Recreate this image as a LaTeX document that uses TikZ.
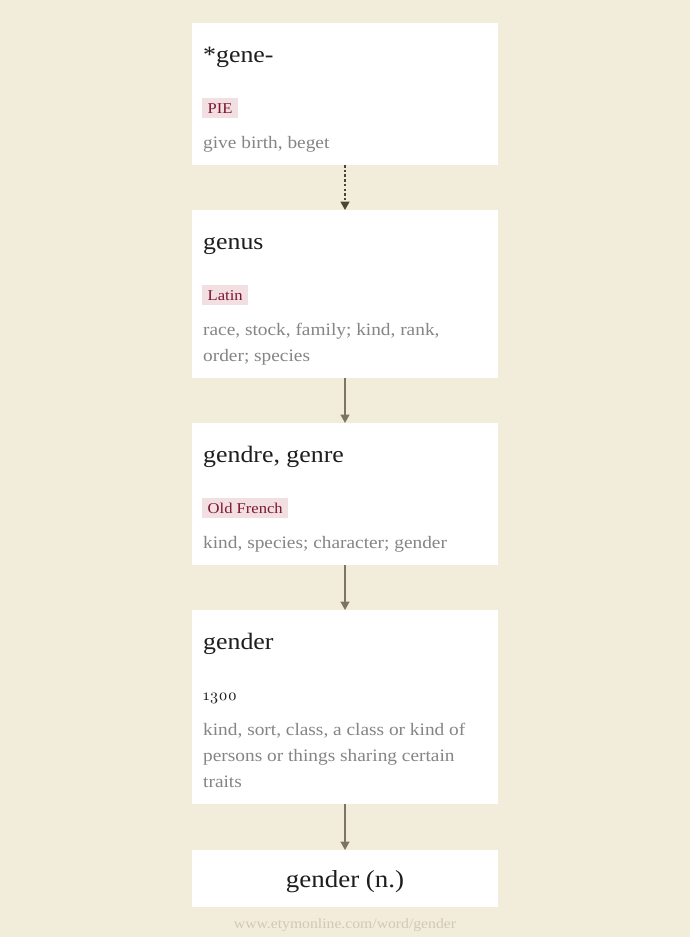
\documentclass[tikz,border=0pt]{standalone}
\usepackage{fontspec}
\setmainfont{Liberation Serif}[FakeStretch=1.105]
\newfontfamily\ttlfont{Liberation Serif}[FakeStretch=1.1]
\newfontfamily\lmold{lmroman10-regular.otf}[Numbers=OldStyle]
\usetikzlibrary{arrows.meta}
\definecolor{bg}{HTML}{F2ECDA}
\definecolor{tagbg}{HTML}{F1DFE1}
\definecolor{tagfg}{HTML}{7E1530}
\definecolor{gtext}{HTML}{858585}
\definecolor{ttext}{HTML}{1E1E1E}
\definecolor{arr}{HTML}{7C7564}
\definecolor{darr}{HTML}{4A4536}
\definecolor{foot}{HTML}{D0C9B4}
\tikzset{
  card/.style={fill=white, draw=none},
  ttl/.style={anchor=base west, inner sep=0pt, text=ttext, font=\ttlfont\fontsize{23.5}{26}\selectfont},
  tag/.style={anchor=base west, inner xsep=5.5pt, inner ysep=0pt, text=tagfg, fill=tagbg, font=\fontsize{15}{17}\selectfont, text height=15pt, text depth=5pt},
  gloss/.style={anchor=base west, inner sep=0pt, text=gtext, font=\fontsize{17.5}{26}\selectfont},
  link/.style={draw=arr, line width=1.5pt, -{Triangle[width=9pt,length=8.5pt]}},
  dlink/.style={draw=darr, line width=1.7pt, dash pattern=on 2.5pt off 2.2pt, -{Triangle[width=9pt,length=8.5pt]}},
}
\begin{document}
\begin{tikzpicture}[x=1pt,y=-1pt]
\fill[bg] (0,0) rectangle (690,937);
\useasboundingbox (0,0) rectangle (690,937);
% cards
\path[card] (192,23) rectangle (498,165);
\path[card] (192,210) rectangle (498,378);
\path[card] (192,423) rectangle (498,565);
\path[card] (192,610) rectangle (498,804);
\path[card] (192,850) rectangle (498,907);
\coordinate (b1) at (345,165);
\coordinate (t2) at (345,210);
\coordinate (b2) at (345,378);
\coordinate (t3) at (345,423);
\coordinate (b3) at (345,565);
\coordinate (t4) at (345,610);
\coordinate (b4) at (345,804);
\coordinate (t5) at (345,850);
% card 1
\node[ttl] (w1) at (203,62) {*gene-};
\node[tag] (l1) at (202,113) {PIE};
\node[gloss] (g1) at (203,148) {give birth, beget};
% card 2
\node[ttl] (w2) at (203,249) {genus};
\node[tag] (l2) at (202,300) {Latin};
\node[gloss] (g2a) at (203,335) {race, stock, family; kind, rank,};
\node[gloss] (g2b) at (203,361) {order; species};
% card 3
\node[ttl] (w3) at (203,462) {gendre, genre};
\node[tag] (l3) at (202,513) {Old French};
\node[gloss] (g3) at (203,548) {kind, species; character; gender};
% card 4
\node[ttl] (w4) at (203,649) {gender};
\node[anchor=base west, inner sep=0pt, text=ttext, font=\lmold\fontsize{16}{18}\selectfont] (y4) at (203,700) {1300};
\node[gloss] (g4a) at (203,735) {kind, sort, class, a class or kind of};
\node[gloss] (g4b) at (203,761) {persons or things sharing certain};
\node[gloss] (g4c) at (203,787) {traits};
% card 5
\node[anchor=base, inner sep=0pt, text=ttext, font=\ttlfont\fontsize{24.5}{26}\selectfont] (w5) at (345,887) {gender (n.)};
% footer
\node[anchor=base, inner sep=0pt, text=foot, font=\fontsize{14.2}{16}\selectfont] (ft) at (345,928) {www.etymonline.com/word/gender};
% links
\draw[dlink] (b1) -- (t2);
\draw[link] (b2) -- (t3);
\draw[link] (b3) -- (t4);
\draw[link] (b4) -- (t5);
\end{tikzpicture}
\end{document}
